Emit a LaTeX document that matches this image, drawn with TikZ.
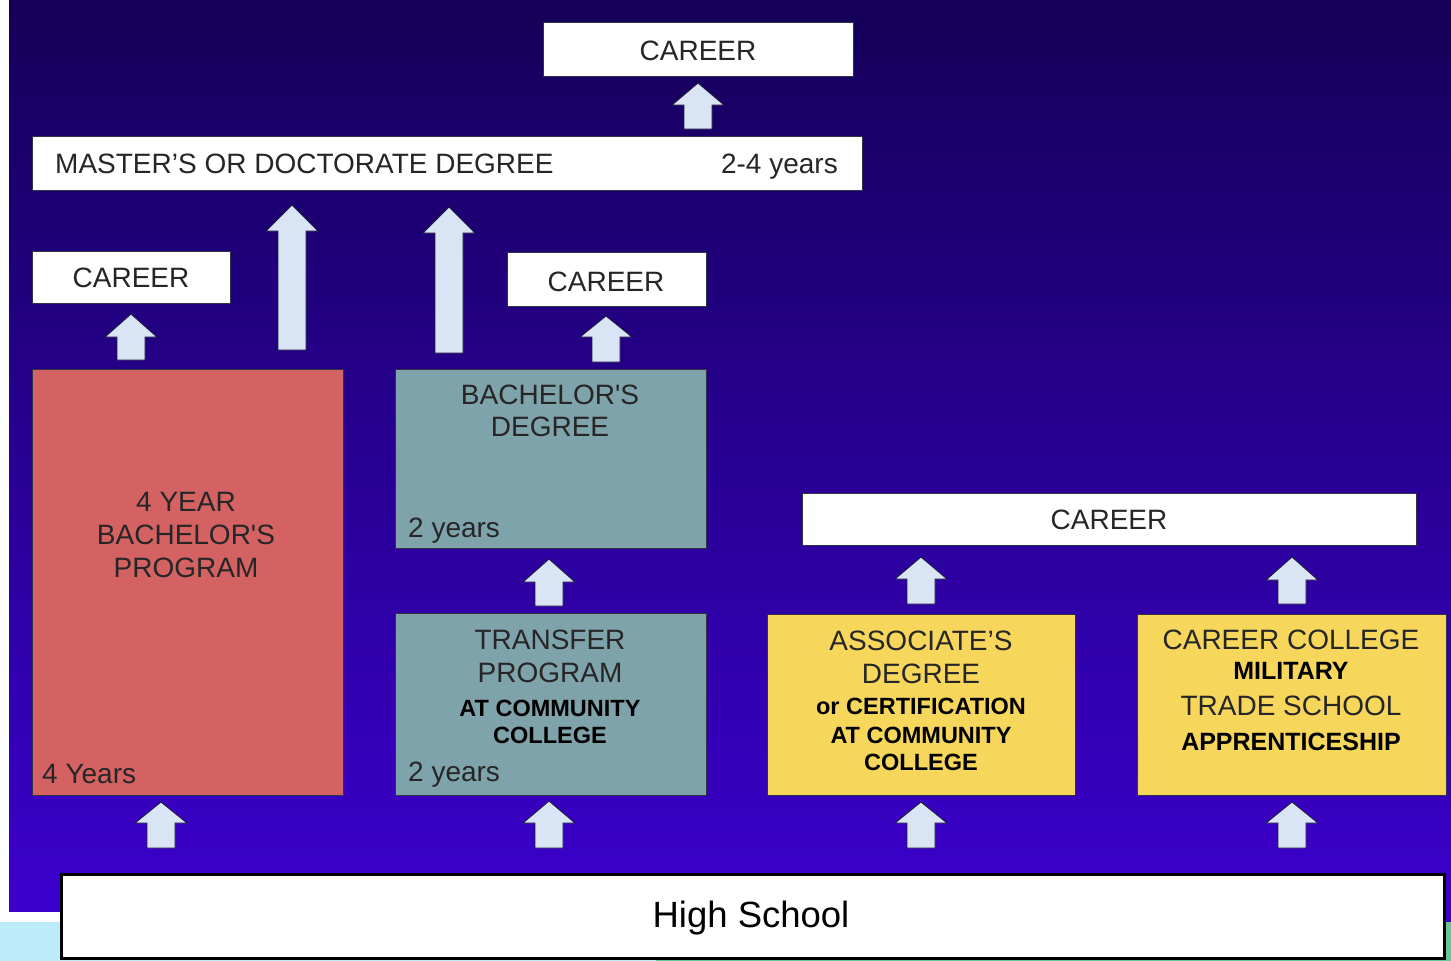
\documentclass[tikz,border=0pt]{standalone}
\usepackage{fontspec}
\setmainfont{Liberation Sans}
\usetikzlibrary{calc}
\definecolor{bgtop}{RGB}{20,0,88}
\definecolor{bgmid}{RGB}{36,0,150}
\definecolor{bgbot}{RGB}{60,0,205}
\definecolor{redfill}{RGB}{212,98,98}
\definecolor{tealfill}{RGB}{127,163,171}
\definecolor{yelfill}{RGB}{247,214,92}
\definecolor{arrfill}{RGB}{217,228,245}
\definecolor{arrline}{RGB}{30,30,60}
\definecolor{txtgray}{RGB}{38,38,38}
\definecolor{edgecol}{RGB}{50,50,70}
\definecolor{cyanband}{RGB}{190,235,249}
\definecolor{greenband}{RGB}{100,200,150}
\begin{document}
\begin{tikzpicture}[x=1pt,y=-1pt,
  panel/.style={rectangle, draw=edgecol, line width=0.8pt, inner sep=0pt, anchor=north west},
  whitebox/.style={panel, fill=white},
  redbox/.style={panel, fill=redfill},
  tealbox/.style={panel, fill=tealfill},
  yelbox/.style={panel, fill=yelfill},
  txt/.style={anchor=base, inner sep=0pt, text=txtgray, font=\fontsize{28}{33}\selectfont},
  btxt/.style={anchor=base, inner sep=0pt, text=black, font=\bfseries\fontsize{23.5}{28}\selectfont},
  bbtxt/.style={anchor=base, inner sep=0pt, text=black, font=\bfseries\fontsize{25}{30}\selectfont},
  blockarr/.style={draw=arrline, fill=arrfill, line width=0.9pt, line join=miter,
    to path={let \p1=(\tikztostart), \p2=(\tikztotarget) in
      (\x1-14pt,\y1) -- (\x1-14pt,\y2-#1) -- (\x1-26pt,\y2-#1) -- (\x1,\y2)
      -- (\x1+26pt,\y2-#1) -- (\x1+14pt,\y2-#1) -- (\x1+14pt,\y1) -- cycle}},
  blockarr/.default=23pt
]
\useasboundingbox (0,0) rectangle (1451,961);
% background
\fill[white] (0,0) rectangle (1451,961);
\fill[cyanband] (0,922) rectangle (656,961);
\fill[greenband] (656,922) rectangle (1451,961);
\shade[top color=bgtop, middle color=bgmid, bottom color=bgbot] (9,0) rectangle (1451,911);
\fill[bgbot] (1443,911) rectangle (1451,922);

% boxes
\node[whitebox, minimum width=310pt, minimum height=54pt] (careerT) at (543,22) {};
\node[whitebox, minimum width=830pt, minimum height=54pt] (master) at (32,136) {};
\node[whitebox, minimum width=198pt, minimum height=52pt] (careerL) at (32,251) {};
\node[whitebox, minimum width=199pt, minimum height=54pt] (careerM) at (507,252) {};
\node[redbox, minimum width=311pt, minimum height=426pt] (red) at (32,369) {};
\node[tealbox, minimum width=311pt, minimum height=179pt] (bach) at (395,369) {};
\node[tealbox, minimum width=311pt, minimum height=182pt] (transfer) at (395,613) {};
\node[whitebox, minimum width=614pt, minimum height=52pt] (careerW) at (802,493) {};
\node[yelbox, minimum width=308pt, minimum height=181pt] (assoc) at (767,614) {};
\node[yelbox, minimum width=309pt, minimum height=181pt] (trade) at (1137,614) {};
\node[rectangle, draw=black, line width=2.5pt, fill=white, inner sep=0pt, anchor=north west,
      minimum width=1383pt, minimum height=84pt] (hs) at (60,873) {};

% texts
\node[txt] (tCT) at (698,60.5) {CAREER};
\node[txt, anchor=base west] (tM1) at (55,173) {MASTER’S OR DOCTORATE DEGREE};
\node[txt, anchor=base east] (tM2) at (838,173) {2-4 years};
\node[txt] (tCL) at (131,287) {CAREER};
\node[txt] (tCM) at (606,291) {CAREER};
\node[txt] (tR1) at (186,511.5) {4 YEAR};
\node[txt] (tR2) at (186,544) {BACHELOR\textquotesingle S};
\node[txt] (tR3) at (186,577) {PROGRAM};
\node[txt, anchor=base west] (tR4) at (42,783) {4 Years};
\node[txt] (tB1) at (550,404.5) {BACHELOR\textquotesingle S};
\node[txt] (tB2) at (550,436.5) {DEGREE};
\node[txt, anchor=base west] (tB3) at (408,537) {2 years};
\node[txt] (tT1) at (550,649) {TRANSFER};
\node[txt] (tT2) at (550,682) {PROGRAM};
\node[btxt] (tT3) at (550,716.5) {AT COMMUNITY};
\node[btxt] (tT4) at (550,743.5) {COLLEGE};
\node[txt, anchor=base west] (tT5) at (408,781) {2 years};
\node[txt] (tCW) at (1109,529) {CAREER};
\node[txt] (tA1) at (921,650) {ASSOCIATE’S};
\node[txt] (tA2) at (921,683) {DEGREE};
\node[btxt] (tA3) at (921,714.5) {or CERTIFICATION};
\node[btxt] (tA4) at (921,743.5) {AT COMMUNITY};
\node[btxt] (tA5) at (921,770.5) {COLLEGE};
\node[txt] (tD1) at (1291,649) {CAREER COLLEGE};
\node[bbtxt] (tD2) at (1291,679) {MILITARY};
\node[txt] (tD3) at (1291,715) {TRADE SCHOOL};
\node[bbtxt] (tD4) at (1291,750) {APPRENTICESHIP};
\node[anchor=base, inner sep=0pt, text=black, font=\fontsize{36.5}{40}\selectfont] (tHS) at (751,927) {High School};

% arrow end points
\coordinate (s1) at (698,129);  \coordinate (e1) at (698,83);
\coordinate (s2) at (131,360);  \coordinate (e2) at (131,314);
\coordinate (s3) at (292,350);  \coordinate (e3) at (292,205);
\coordinate (s4) at (449,353);  \coordinate (e4) at (449,207);
\coordinate (s5) at (606,362);  \coordinate (e5) at (606,316);
\coordinate (s6) at (549,606);  \coordinate (e6) at (549,559);
\coordinate (s7) at (549,848);  \coordinate (e7) at (549,801);
\coordinate (s8) at (161,848);  \coordinate (e8) at (161,802);
\coordinate (s9) at (921,604);  \coordinate (e9) at (921,557);
\coordinate (s10) at (921,848); \coordinate (e10) at (921,802);
\coordinate (s11) at (1292,604); \coordinate (e11) at (1292,557);
\coordinate (s12) at (1292,848); \coordinate (e12) at (1292,802);

% arrows
\draw[blockarr=22pt] (s1) to (e1);
\draw[blockarr] (s2) to (e2);
\draw[blockarr=26pt] (s3) to (e3);
\draw[blockarr=26pt] (s4) to (e4);
\draw[blockarr=21pt] (s5) to (e5);
\draw[blockarr] (s6) to (e6);
\draw[blockarr=22pt] (s7) to (e7);
\draw[blockarr=21pt] (s8) to (e8);
\draw[blockarr=22pt] (s9) to (e9);
\draw[blockarr=21pt] (s10) to (e10);
\draw[blockarr=23pt] (s11) to (e11);
\draw[blockarr=21pt] (s12) to (e12);
\end{tikzpicture}
\end{document}
